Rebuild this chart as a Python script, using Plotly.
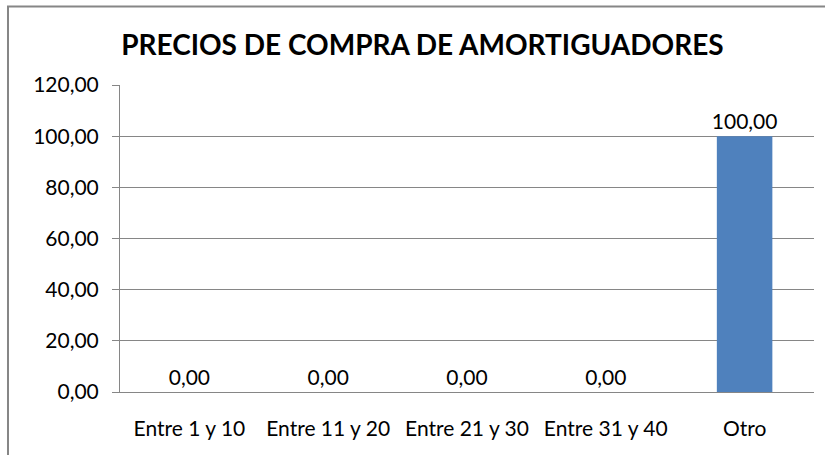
import plotly.graph_objects as go

categorias = ["Entre 1 y 10", "Entre 11 y 20", "Entre 21 y 30", "Entre 31 y 40", "Otro"]
porcentajes = [0.0, 0.0, 0.0, 0.0, 100.0]
y_ticks = [0, 20, 40, 60, 80, 100, 120]

FONT = "Lato"

fig = go.Figure()

fig.add_trace(
    go.Bar(
        x=categorias,
        y=porcentajes,
        marker=dict(color="#4F81BD", line=dict(width=0)),
        text=[f"{v:.2f}".replace(".", ",") for v in porcentajes],
        textposition="outside",
        constraintext="none",
        textfont=dict(size=21, color="#000000", family=FONT),
        cliponaxis=False,
    )
)

fig.update_layout(
    width=825,
    height=455,
    margin=dict(l=120, r=11, t=85, b=63),
    paper_bgcolor="white",
    plot_bgcolor="white",
    separators=",.",
    bargap=0.6,
    showlegend=False,
    font=dict(family=FONT, size=21, color="#000000"),
    title=dict(
        text="<b>PRECIOS DE COMPRA DE AMORTIGUADORES</b>",
        x=0.512,
        xanchor="center",
        y=0.901,
        yanchor="middle",
        font=dict(size=28, color="#000000", family=FONT),
    ),
)

fig.update_yaxes(
    range=[0, 120],
    tickvals=y_ticks,
    tickformat=".2f",
    showgrid=True,
    gridcolor="#868686",
    gridwidth=1,
    showline=True,
    linecolor="#868686",
    linewidth=1,
    ticks="outside",
    ticklen=7,
    tickcolor="#868686",
    tickfont=dict(size=21, color="#000000"),
    ticklabelstandoff=9,
    zeroline=False,
)

fig.update_xaxes(
    showline=True,
    linecolor="#868686",
    linewidth=1,
    ticks="",
    tickfont=dict(size=21, color="#000000"),
    ticklabelstandoff=18,
)

# marco exterior del grafico
fig.add_shape(
    type="rect",
    xref="paper",
    yref="paper",
    x0=-0.1614,
    x1=1.1,
    y0=-0.4,
    y1=1.2557,
    line=dict(color="#868686", width=2),
    fillcolor="rgba(0,0,0,0)",
    layer="below",
)

fig.write_html(
    "out.html",
    config={"displayModeBar": False},
    post_script="document.body.style.margin='0';",
)
